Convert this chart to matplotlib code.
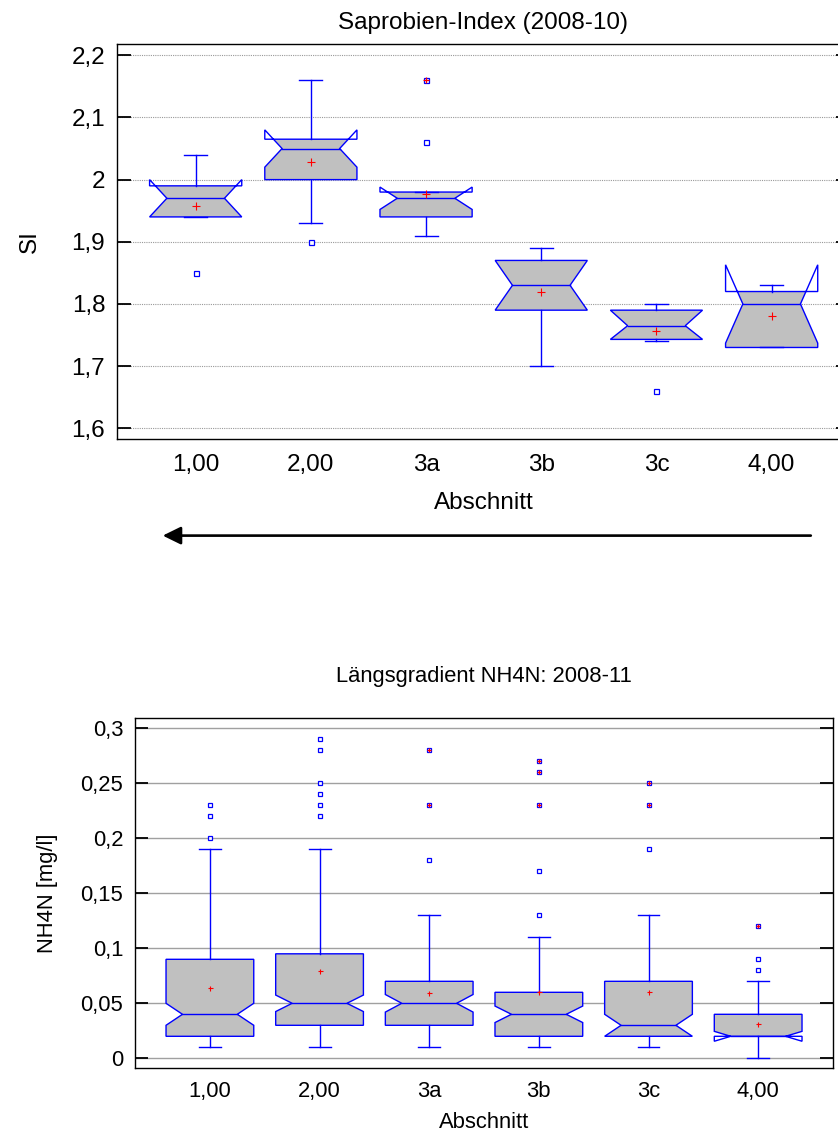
import matplotlib
matplotlib.use('Agg')
import matplotlib.pyplot as plt
from matplotlib.patches import Polygon, Rectangle
from matplotlib.ticker import FuncFormatter, MultipleLocator

plt.rcParams['font.family'] = ['Liberation Sans', 'DejaVu Sans']

# Abschnitte entlang des Flusses
abschnitte = ['1,00', '2,00', '3a', '3b', '3c', '4,00']

# Saprobien-Index 2008-10 (Kennwerte je Abschnitt)
si_q1 = [1.94, 2.00, 1.94, 1.79, 1.743, 1.73]
si_med = [1.97, 2.05, 1.97, 1.83, 1.765, 1.80]
si_q3 = [1.99, 2.065, 1.98, 1.87, 1.79, 1.82]
si_kerbe_u = [1.94, 2.02, 1.952, 1.79, 1.743, 1.737]
si_kerbe_o = [2.00, 2.08, 1.988, 1.87, 1.79, 1.863]
si_whisker_u = [1.94, 1.93, 1.91, 1.70, 1.74, 1.73]
si_whisker_o = [2.04, 2.16, 1.98, 1.89, 1.80, 1.83]
si_mittel = [1.958, 2.028, 1.977, 1.819, 1.756, 1.780]
si_ausreisser = [[1.85], [1.90], [2.06, 2.16], [], [1.66], []]
si_weit = [[], [], [2.16], [], [], []]

# NH4N 2008-11 [mg/l]
nh_q1 = [0.02, 0.03, 0.03, 0.02, 0.02, 0.02]
nh_med = [0.04, 0.05, 0.05, 0.04, 0.03, 0.02]
nh_q3 = [0.09, 0.095, 0.07, 0.06, 0.07, 0.04]
nh_kerbe_u = [0.03, 0.0425, 0.042, 0.0325, 0.02, 0.0155]
nh_kerbe_o = [0.05, 0.0575, 0.058, 0.0475, 0.04, 0.0245]
nh_whisker_u = [0.01, 0.01, 0.01, 0.01, 0.01, 0.0]
nh_whisker_o = [0.19, 0.19, 0.13, 0.11, 0.13, 0.07]
nh_mittel = [0.064, 0.079, 0.059, 0.060, 0.060, 0.031]
nh_ausreisser = [[0.20, 0.22, 0.23], [0.22, 0.23, 0.24, 0.25, 0.28, 0.29],
                 [0.18, 0.23, 0.28], [0.13, 0.17, 0.23, 0.26, 0.27],
                 [0.19, 0.23, 0.25], [0.08, 0.09, 0.12]]
nh_weit = [[], [], [0.23, 0.28], [0.23, 0.26, 0.27], [0.23, 0.25], [0.12]]

BLAU = '#0000ff'
GRAU = '#c0c0c0'


def kerbbox(ax, x, q1, med, q3, k_u, k_o, w_u, w_o, lw=1.0):
    # gekerbte Box wie bei Statgraphics, Fuellung nur zwischen Q1 und Q3
    b = 0.8
    k = 0.5
    l, r = x - b / 2, x + b / 2
    nl, nr = x - k / 2, x + k / 2
    pts = [(l, q1), (l, k_u), (nl, med), (l, k_o), (l, q3),
           (r, q3), (r, k_o), (nr, med), (r, k_u), (r, q1)]
    fill = Polygon(pts, closed=True, facecolor=GRAU, edgecolor='none', zorder=2)
    ax.add_patch(fill)
    clip = Rectangle((l, q1), b, q3 - q1, transform=ax.transData)
    fill.set_clip_path(clip)
    ax.add_patch(Polygon(pts, closed=True, fill=False, edgecolor=BLAU, lw=lw, zorder=3))
    ax.plot([nl, nr], [med, med], color=BLAU, lw=lw, zorder=3)
    # Whisker und Querstriche
    ax.plot([x, x], [q3, w_o], color=BLAU, lw=lw, zorder=3)
    ax.plot([x, x], [q1, w_u], color=BLAU, lw=lw, zorder=3)
    ax.plot([x - 0.1, x + 0.1], [w_o, w_o], color=BLAU, lw=lw, zorder=3)
    ax.plot([x - 0.1, x + 0.1], [w_u, w_u], color=BLAU, lw=lw, zorder=3)


def boxplot(ax, q1, med, q3, k_u, k_o, w_u, w_o, mittel, aus, weit, ms_out, ms_mean):
    for i in range(len(abschnitte)):
        kerbbox(ax, i, q1[i], med[i], q3[i], k_u[i], k_o[i], w_u[i], w_o[i])
        if aus[i]:
            ax.plot([i] * len(aus[i]), aus[i], 's', ms=ms_out, mfc='white',
                    mec=BLAU, mew=0.9, zorder=4)
        if weit[i]:
            ax.plot([i] * len(weit[i]), weit[i], '+', ms=ms_out + 0.5,
                    color='red', mew=0.9, zorder=5)
        ax.plot(i, mittel[i], '+', ms=ms_mean, color='red', mew=0.8, zorder=5)


def achse(ax, fs, ticklen, xpad):
    ax.set_xticks(range(len(abschnitte)))
    ax.set_xticklabels(abschnitte)
    ax.set_xlim(-0.683, 5.68)
    ax.yaxis.set_major_formatter(FuncFormatter(lambda v, p: f'{v:g}'.replace('.', ',')))
    ax.tick_params(axis='y', direction='in', length=ticklen, width=1.3,
                   left=True, right=True, labelsize=fs, pad=8.5)
    ax.tick_params(axis='x', bottom=False, labelsize=fs, pad=xpad)
    for s in ax.spines.values():
        s.set_linewidth(1.0)
    ax.set_axisbelow(True)


fig = plt.figure(figsize=(8.38, 11.33), dpi=100)

# oben: Saprobien-Index
ax1 = fig.add_axes([0.1396, 0.6121, 0.8747, 0.3491])
boxplot(ax1, si_q1, si_med, si_q3, si_kerbe_u, si_kerbe_o, si_whisker_u,
        si_whisker_o, si_mittel, si_ausreisser, si_weit, 3.6, 5.5)
ax1.set_ylim(1.582, 2.2182)
ax1.yaxis.set_major_locator(MultipleLocator(0.1))
achse(ax1, 17.5, 10, 7.0)
ax1.grid(axis='y', color='#999999', linestyle=(0, (1, 1)), lw=0.8)
ax1.set_title('Saprobien-Index (2008-10)', fontsize=17.5, pad=10.6)
ax1.set_ylabel('SI', fontsize=17.5)
ax1.yaxis.set_label_coords(-0.104, 0.5)
ax1.set_xlabel('Abschnitt', fontsize=17.5)
ax1.xaxis.set_label_coords(0.5, -0.132)

# Pfeil unter der oberen Grafik (Fliessrichtung)
ax1.annotate('', xy=(-0.286, -0.243), xytext=(5.34, -0.243),
             xycoords=('data', 'axes fraction'), textcoords=('data', 'axes fraction'),
             annotation_clip=False,
             arrowprops=dict(arrowstyle='-|>,head_length=0.55,head_width=0.27',
                             mutation_scale=20, lw=1.9, color='black',
                             shrinkA=0, shrinkB=0))

# unten: NH4N
ax2 = fig.add_axes([0.1611, 0.0571, 0.8326, 0.3089])
boxplot(ax2, nh_q1, nh_med, nh_q3, nh_kerbe_u, nh_kerbe_o, nh_whisker_u,
        nh_whisker_o, nh_mittel, nh_ausreisser, nh_weit, 2.6, 3.6)
ax2.set_ylim(-0.0091, 0.3091)
ax2.yaxis.set_major_locator(MultipleLocator(0.05))
achse(ax2, 15.8, 9.6, 5.8)
ax2.grid(axis='y', color='#a0a0a0', linestyle='-', lw=1.0)
ax2.set_title('Längsgradient NH4N: 2008-11', fontsize=15.8, pad=26.4)
ax2.set_ylabel('NH4N [mg/l]', fontsize=15.8)
ax2.yaxis.set_label_coords(-0.110, 0.5)
ax2.set_xlabel('Abschnitt', fontsize=15.8)
ax2.xaxis.set_label_coords(0.5, -0.125)

fig.savefig('out.png', dpi=100)
